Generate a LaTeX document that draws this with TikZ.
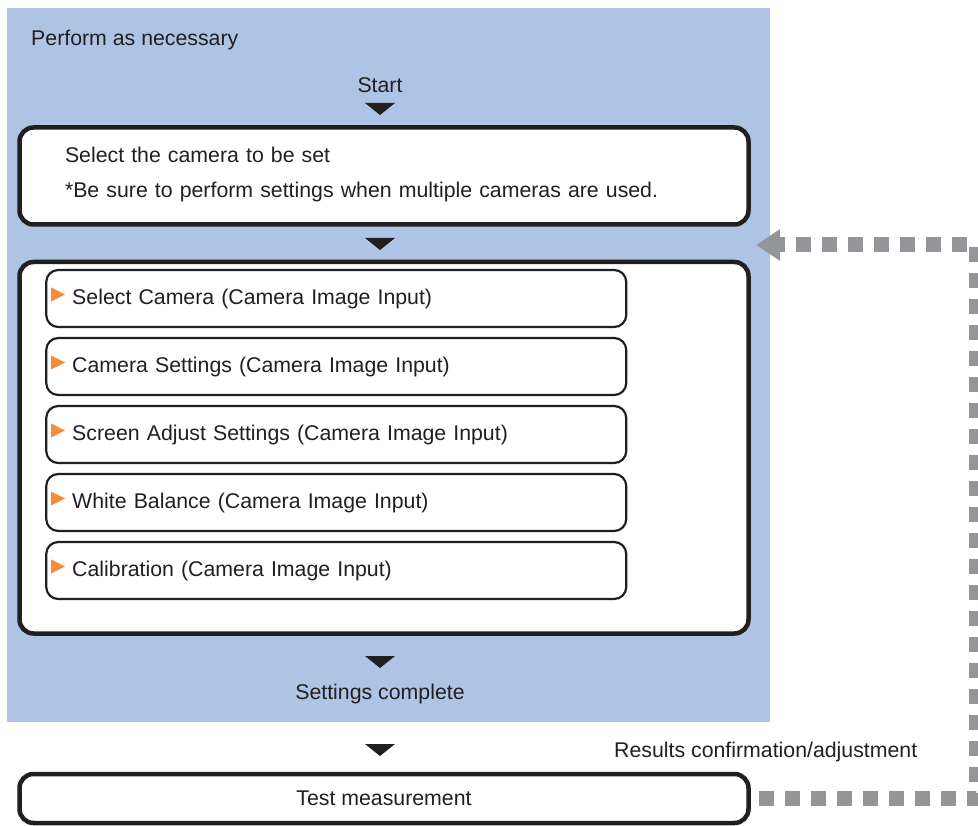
\documentclass[tikz,border=0pt]{standalone}
\usepackage{fontspec}
\setmainfont{Liberation Sans}
\usetikzlibrary{arrows.meta}
\definecolor{bgblue}{RGB}{174,196,228}
\definecolor{ink}{RGB}{35,31,32}
\definecolor{loopgray}{RGB}{147,149,152}
\definecolor{pointorange}{RGB}{244,140,60}

\tikzset{
	bigbox/.style={draw=ink, line width=4.5pt, rounded corners=14pt, fill=white, minimum width=729pt},
	sub/.style={draw=ink, line width=2.2pt, rounded corners=12pt, fill=white, minimum height=57pt, text width=528pt, inner xsep=26pt, align=left},
	txt/.style={inner sep=0pt, text=ink},
	tri/.style={fill=ink},
	pointer/.style={fill=pointorange},
	backline/.style={draw=loopgray, line width=15pt, dash pattern=on 15pt off 11pt, -{Triangle[length=24pt,width=30pt]}},
}

\begin{document}
\begin{tikzpicture}[x=1pt, y=-1pt, font=\fontsize{21.3}{35}\selectfont, text=ink]
\useasboundingbox (0,0) rectangle (978,826);
\fill[bgblue] (7,8) rectangle (770,722);

\node[txt, anchor=base west] (perform) at (31,46) {Perform as necessary};
\node[txt, anchor=base] (start) at (380,93) {Start};
\node[bigbox, minimum height=97pt, text width=638pt, inner xsep=45.5pt, align=left] (select) at (384,176)
	{Select the camera to be set\\ {}*Be sure to perform settings when multiple cameras are used.\rule[-6.5pt]{0pt}{6.5pt}};
\node[bigbox, minimum height=371.5pt] (steps) at (384,447.75) {};
\matrix[row sep=8.8pt] at (336.25,434.5) {
	\node[sub] (m1) {Select Camera (Camera Image Input)}; \\
	\node[sub] (m2) {Camera Settings (Camera Image Input)}; \\
	\node[sub] (m3) {Screen Adjust Settings (Camera Image Input)}; \\
	\node[sub] (m4) {White Balance (Camera Image Input)}; \\
	\node[sub] (m5) {Calibration (Camera Image Input)}; \\
};
\node[txt, anchor=base] (done) at (380,699) {Settings complete};
\node[txt, anchor=base west] (results) at (614,757) {Results confirmation/adjustment};
\node[bigbox, minimum height=49pt, inner sep=0pt] (test) at (384,798.5) {Test measurement};

\foreach \i in {1,...,5}
	\fill[pointer] (m\i.west) ++(6,-11) -- ++(14,7) -- ++(-14,7) -- cycle;
\foreach \y in {103,238,656,744}
	\fill[tri] (365,\y) -- (395,\y) -- (380,\y+12) -- cycle;

% povratna zanka
\coordinate (back) at (756,245);
\draw[backline] ([xshift=8pt]test.east) -| (976,245) -- (back);
\end{tikzpicture}
\end{document}
